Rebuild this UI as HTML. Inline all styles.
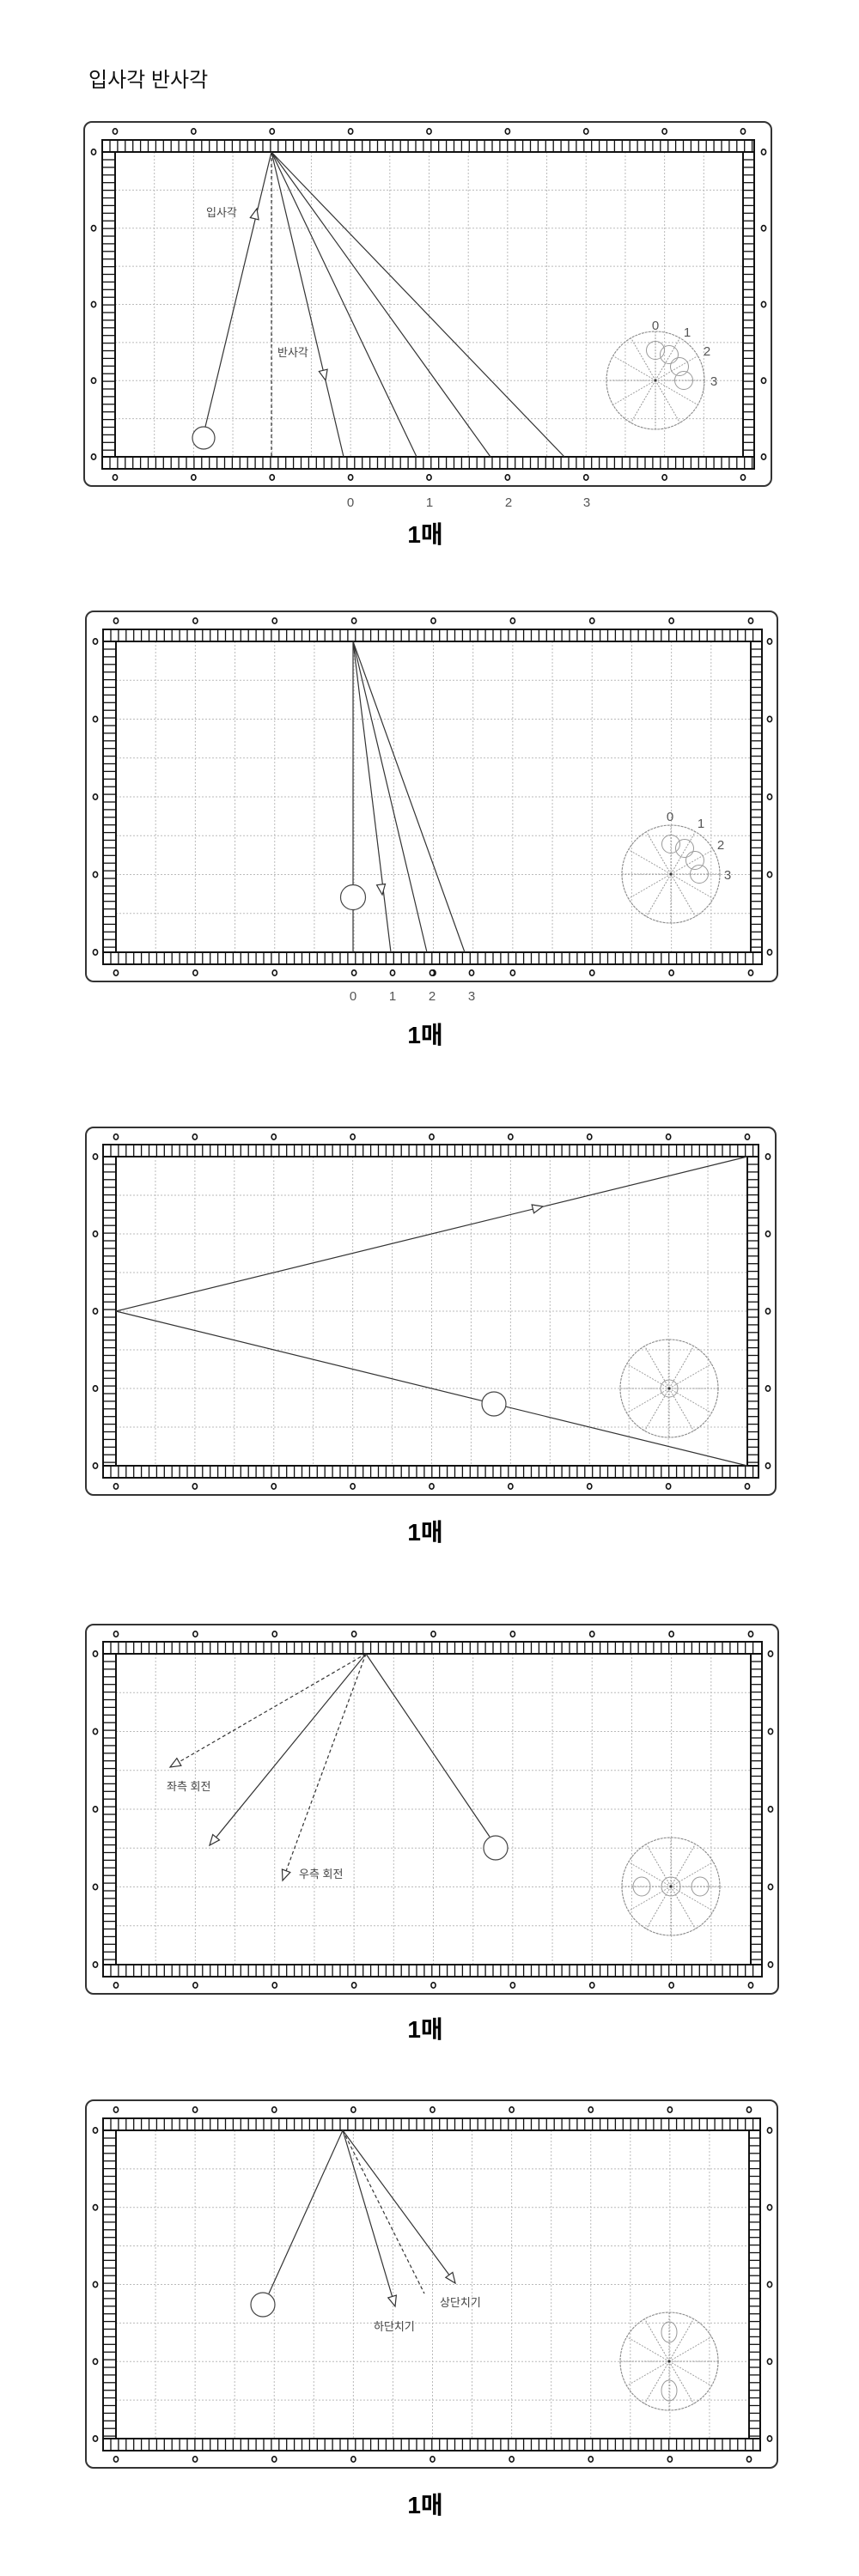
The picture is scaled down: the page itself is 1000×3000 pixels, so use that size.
<!DOCTYPE html>
<html><head><meta charset="utf-8">
<style>
html,body{margin:0;padding:0;background:#fff;}
svg{display:block;}
.t{font-family:"Liberation Sans","Noto Sans CJK KR",sans-serif;fill:#444;}
.n{font-family:"Liberation Sans",sans-serif;fill:#555;font-size:15px;}
.m{font-family:"Liberation Sans","Noto Sans CJK KR",sans-serif;font-weight:bold;font-size:28px;fill:#000;}
</style></head><body>
<svg id="s" width="1000" height="3000" viewBox="0 0 1000 3000" xmlns="http://www.w3.org/2000/svg">
<g id="g"></g>
<text x="103" y="101" class="t" style="font-size:24px;fill:#111">입사각 반사각</text>

<text x="240" y="252" class="t" style="font-size:13px">입사각</text>
<text x="323" y="415" class="t" style="font-size:13px">반사각</text>
<text x="408" y="590" class="n" text-anchor="middle">0</text>
<text x="500" y="590" class="n" text-anchor="middle">1</text>
<text x="592" y="590" class="n" text-anchor="middle">2</text>
<text x="683" y="590" class="n" text-anchor="middle">3</text>
<text x="763" y="384" class="n" text-anchor="middle">0</text>
<text x="800" y="392" class="n" text-anchor="middle">1</text>
<text x="823" y="414" class="n" text-anchor="middle">2</text>
<text x="831" y="449" class="n" text-anchor="middle">3</text>
<text x="495" y="632" class="m" text-anchor="middle">1매</text>

<text x="411" y="1165" class="n" text-anchor="middle">0</text>
<text x="457" y="1165" class="n" text-anchor="middle">1</text>
<text x="503" y="1165" class="n" text-anchor="middle">2</text>
<text x="549" y="1165" class="n" text-anchor="middle">3</text>
<text x="780" y="956" class="n" text-anchor="middle">0</text>
<text x="816" y="964" class="n" text-anchor="middle">1</text>
<text x="839" y="989" class="n" text-anchor="middle">2</text>
<text x="847" y="1024" class="n" text-anchor="middle">3</text>
<text x="495" y="1215" class="m" text-anchor="middle">1매</text>

<text x="495" y="1794" class="m" text-anchor="middle">1매</text>

<text x="194" y="2085" class="t" style="font-size:13px">좌측 회전</text>
<text x="348" y="2187" class="t" style="font-size:13px">우측 회전</text>
<text x="495" y="2373" class="m" text-anchor="middle">1매</text>

<text x="435" y="2714" class="t" style="font-size:13px">하단치기</text>
<text x="512" y="2686" class="t" style="font-size:13px">상단치기</text>
<text x="495" y="2927" class="m" text-anchor="middle">1매</text>
</svg>
<script>
var o='';
function L(x1,y1,x2,y2,st){o+='<line x1="'+x1+'" y1="'+y1+'" x2="'+x2+'" y2="'+y2+'" style="'+st+'"/>';}
function C(cx,cy,r,st){o+='<circle cx="'+cx+'" cy="'+cy+'" r="'+r+'" style="'+st+'"/>';}
function E(cx,cy,rx,ry,st){o+='<ellipse cx="'+cx+'" cy="'+cy+'" rx="'+rx+'" ry="'+ry+'" style="'+st+'"/>';}
var SL='stroke:#333;stroke-width:1.2;fill:none';
var DL='stroke:#333;stroke-width:1.2;stroke-dasharray:4 3;fill:none';
function arrow(x,y,dx,dy){var l=Math.hypot(dx,dy);dx/=l;dy/=l;var bx=x-dx*12,by=y-dy*12,px=-dy*5,py=dx*5;
o+='<polygon points="'+x+','+y+' '+(bx+px)+','+(by+py)+' '+(bx-px)+','+(by-py)+'" style="fill:#fff;stroke:#333;stroke-width:1.2"/>';}
function table(ox0,oy0,ox1,oy1,px0,py0,px1,py1,extraDots){
  o+='<rect x="'+ox0+'" y="'+oy0+'" width="'+(ox1-ox0)+'" height="'+(oy1-oy0)+'" rx="9" style="fill:#fff;stroke:#333;stroke-width:2"/>';
  var dx=(px1-px0)/16,dy=(py1-py0)/8,i;
  for(i=1;i<16;i++)L(px0+i*dx,py0,px0+i*dx,py1,'stroke:#bbb;stroke-width:1;stroke-dasharray:2 2');
  for(i=1;i<8;i++)L(px0,py0+i*dy,px1,py0+i*dy,'stroke:#bbb;stroke-width:1;stroke-dasharray:2 2');
  var bl=px0-15,br=px1+13,bt=py0-14,bb=py1+14;
  var cs='stroke:#111;stroke-width:1.3';
  // top & bottom bands
  [[bt,py0],[py1,bb]].forEach(function(b){
    o+='<rect x="'+bl+'" y="'+b[0]+'" width="'+(br-bl)+'" height="'+(b[1]-b[0])+'" style="fill:#fff;stroke:#111;stroke-width:2"/>';
    for(var x=bl+9;x<br-2;x+=8.9)L(x.toFixed(1),b[0],x.toFixed(1),b[1],cs);
  });
  [[bl,px0],[px1,br]].forEach(function(b){
    o+='<rect x="'+b[0]+'" y="'+py0+'" width="'+(b[1]-b[0])+'" height="'+(py1-py0)+'" style="fill:#fff;stroke:#111;stroke-width:2"/>';
    for(var y=py0+9;y<py1-2;y+=8.9)L(b[0],y.toFixed(1),b[1],y.toFixed(1),cs);
  });
  var ds='fill:#fff;stroke:#111;stroke-width:1.6';
  var ddx=(px1-px0)/8;
  for(i=0;i<=8;i++){E(px0+i*ddx,oy0+11,2.6,3.2,ds);E(px0+i*ddx,oy1-10,2.6,3.2,ds);}
  (extraDots||[]).forEach(function(x){E(x,oy1-10,2.6,3.2,ds);});
  var sdy=(py1-py0)/4;
  for(i=0;i<=4;i++){E(ox0+11,py0+i*sdy,2.6,3.2,ds);E(ox1-9,py0+i*sdy,2.6,3.2,ds);}
}
function diag(cx,cy,kind){
  var gs='stroke:#999;stroke-width:1;stroke-dasharray:2 1.5;fill:none';
  C(cx,cy,57,'stroke:#888;stroke-width:1.1;fill:none;stroke-dasharray:3 1');
  L(cx-57,cy,cx+57,cy,gs);L(cx,cy-57,cx,cy+57,gs);
  [30,60,120,150,210,240,300,330].forEach(function(a){var r=a*Math.PI/180;L(cx,cy,cx+57*Math.cos(r),cy+57*Math.sin(r),gs);});
  C(cx,cy,1.5,'fill:#333');
  var cs2='stroke:#999;stroke-width:1;fill:none';
  if(kind==1){[[0,-35],[16,-30],[28,-16],[33,0]].forEach(function(p){C(cx+p[0],cy+p[1],10.5,cs2);});}
  if(kind==3){C(cx,cy,10,cs2);}
  if(kind==4){C(cx,cy,11,cs2);E(cx-34,cy,10,11,cs2);E(cx+34,cy,10,11,cs2);}
  if(kind==5){E(cx,cy-34,9,12,cs2);E(cx,cy+34,9,12,cs2);}
}
// Table 1
table(98,142,898,566,134,177,865,532);
L(239,497,316,177,SL);arrow(299,243,316-239,177-497);
L(316,177,316,532,DL);
L(316,177,400,532,SL);L(316,177,485,532,SL);L(316,177,571,532,SL);L(316,177,657,532,SL);
arrow(379,443,400-316,532-177);
C(237,510,13,'fill:#fff;stroke:#444;stroke-width:1.2');
diag(763,443,1);
// Table 2
table(100,712,905,1143,135,747,874,1109,[457,503,549]);
L(411,747,411,1109,SL);L(411,747,455,1109,SL);L(411,747,497,1109,SL);L(411,747,541,1109,SL);
arrow(445,1042,455-411,1109-747);
C(411,1045,14.5,'fill:#fff;stroke:#444;stroke-width:1.2');
diag(781,1018,1);
// Table 3
table(100,1313,903,1741,135,1347,870,1707);
L(135,1527,870,1347,SL);L(135,1527,870,1707,SL);
arrow(632,1405,870-135,1347-1527);
C(575,1635,14,'fill:#fff;stroke:#444;stroke-width:1.2');
diag(779,1617,3);
// Table 4
table(100,1892,906,2322,135,1926,874,2288);
L(426,1926,244,2149,SL);arrow(244,2149,244-426,2149-1926);
L(426,1926,570,2139,SL);
L(426,1926,198,2058,DL);arrow(198,2058,198-426,2058-1926);
L(426,1926,329,2190,DL);arrow(329,2190,329-426,2190-1926);
C(577,2152,14,'fill:#fff;stroke:#444;stroke-width:1.2');
diag(781,2197,4);
// Table 5
table(100,2446,905,2874,135,2481,872,2840);
L(399,2481,313,2671,SL);
L(399,2481,460,2686,SL);arrow(460,2686,460-399,2686-2481);
L(399,2481,494,2671,DL);
L(399,2481,530,2659,SL);arrow(530,2659,530-399,2659-2481);
C(306,2684,14,'fill:#fff;stroke:#444;stroke-width:1.2');
diag(779,2750,5);
document.getElementById('g').innerHTML=o;
</script>
</body></html>
